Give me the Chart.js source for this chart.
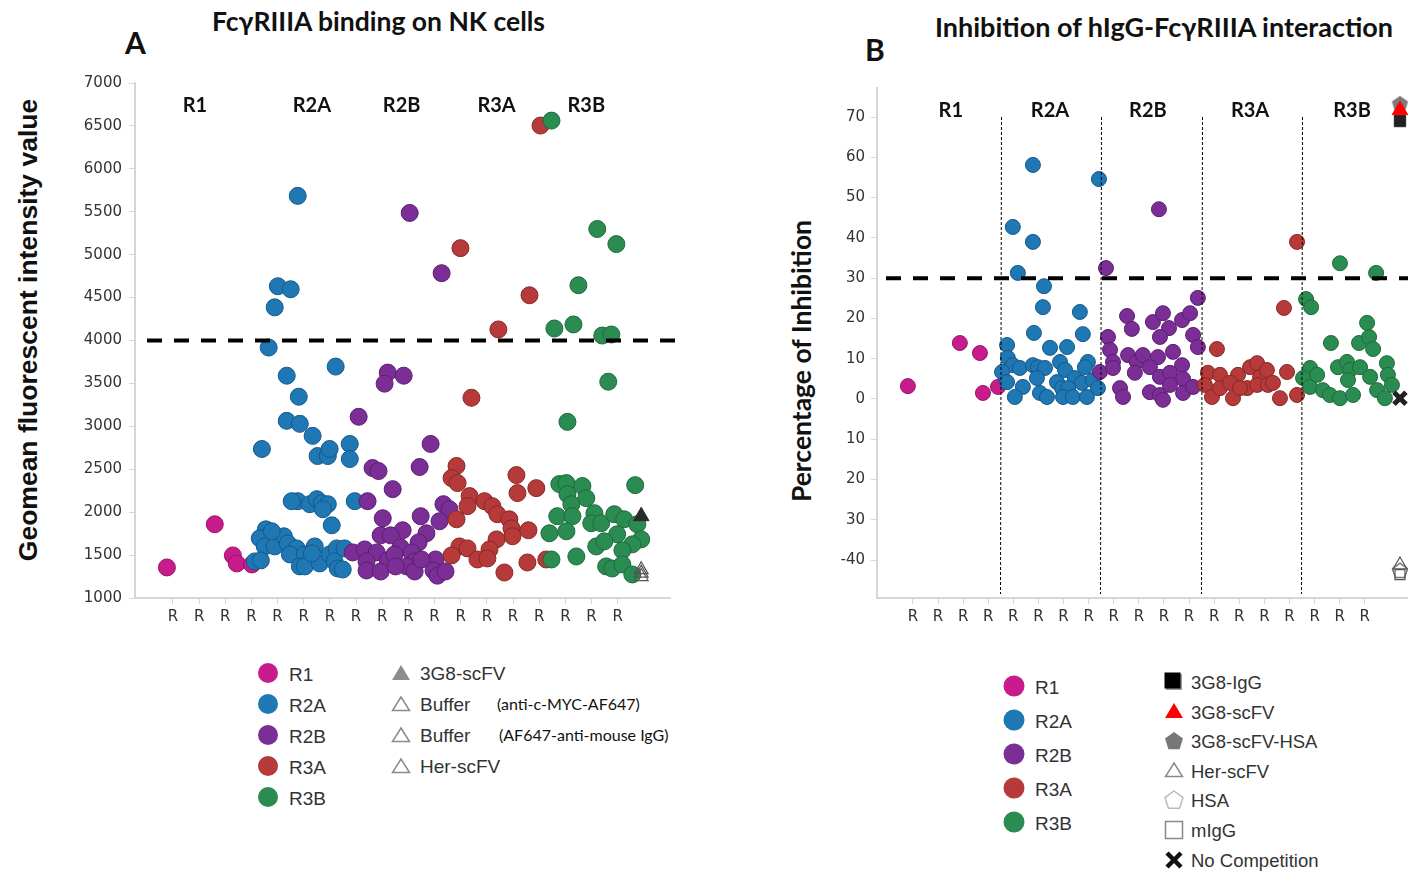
<!DOCTYPE html>
<html lang="en">
<head>
<meta charset="UTF-8">
<title>FcγRIIIA binding</title>
<script src="https://cdn.jsdelivr.net/npm/chart.js@4"></script>
<style>
  body{margin:0;background:#fff;width:1408px;height:871px;overflow:hidden;position:relative;font-family:"Liberation Sans",Arial,sans-serif}
  .abs{position:absolute;white-space:nowrap}
  .ttl{font-family:Lato,sans-serif;font-weight:700;color:#111;line-height:1}
  .ytl{font-weight:700;color:#111;line-height:1;transform:translate(-50%,-50%) rotate(-90deg)}
  .lg{color:#333;line-height:1;transform:translateY(-50%)}
  .par{font-family:Lato,sans-serif;color:#111;font-size:16px;line-height:1;transform:translateY(-50%)}
  canvas{position:absolute}
</style>
</head>
<body>

<div class="abs ttl" style="left:212px;top:8px;font-size:26.5px">FcγRIIIA binding on NK cells</div>
<div class="abs ttl" style="left:125px;top:27px;font-size:30px">A</div>
<div class="abs ttl" style="left:935px;top:13px;font-size:27px">Inhibition of hIgG-FcγRIIIA interaction</div>
<div class="abs ttl" style="left:865px;top:34px;font-size:30px">B</div>
<div class="abs ytl" style="left:28px;top:330px;font-family:'Liberation Sans',Arial,sans-serif;font-size:26.5px">Geomean fluorescent intensity value</div>
<div class="abs ytl" style="left:801px;top:361px;font-family:Lato,sans-serif;font-size:26.5px">Percentage of Inhibition</div>

<canvas id="chartA" width="690" height="640" style="left:0;top:0;width:690px;height:640px"></canvas>
<canvas id="chartB" width="628" height="640" style="left:780px;top:0;width:628px;height:640px"></canvas>

<script>
// groups and colours
const regionNames = ['R1', 'R2A', 'R2B', 'R3A', 'R3B'];
const regionColors = ['#c81b8c', '#1f77b4', '#7b2e96', '#b73a3a', '#2b8c52'];
const regionBorders = ['#9a1468', '#15598a', '#5a1f70', '#872828', '#1e6a3c'];

// tick positions
const xTicksA = [1,2,3,4,5,6,7,8,9,10,11,12,13,14,15,16,17,18];
const xTicksB = [1,2,3,4,5,6,7,8,9,10,11,12,13,14,15,16,17,18,19];
const yTicksA = [1000,1500,2000,2500,3000,3500,4000,4500,5000,5500,6000,6500,7000];
const yTicksB = [-40,-30,-20,-10,0,10,20,30,40,50,60,70];
const yLabelsB = ['-40','30','20','10','0','10','20','30','40','50','60','70'];

// group label positions (x in tick units, y in data units)
const regionLabelXA = [1.84, 6.31, 9.74, 13.37, 16.8];
const regionLabelYA = 6740;
const regionLabelXB = [2.51, 6.46, 10.36, 14.43, 18.49];
const regionLabelYB = 71.5;
const separatorsB = [4.5, 8.5, 12.5, 16.5];
const thresholdA = 4000;
const thresholdB = 30;

// panel A: geomean fluorescence
const aR1 = [[0.77,1356],[2.60,1859],[3.29,1496],[3.44,1403],[4.02,1391]];
const aR2A = [[5.77,5685],[5.01,4632],[5.50,4597],[4.89,4386],[4.66,3918],[7.22,3696],[5.35,3590],[5.81,3345],
  [5.35,3064],[5.85,3029],[4.40,2736],[6.34,2889],[7.76,2795],[6.53,2654],[6.92,2654],[6.99,2736],[7.76,2619],
  [5.77,2128],[7.95,2128],[6.23,2093],[6.50,2151],[6.69,2105],[6.92,2093],[6.73,2034],[5.54,2128],[7.07,1847],
  [4.55,1800],[4.32,1695],[4.51,1601],[4.89,1601],[5.24,1719],[5.39,1637],[5.73,1578],[5.47,1508],[6.04,1508],
  [6.42,1601],[5.85,1368],[6.04,1368],[4.13,1426],[4.36,1438],[6.61,1403],[6.99,1508],[7.26,1578],[7.18,1426],
  [7.30,1344],[7.56,1578],[7.49,1332],[6.31,1520],[4.78,1777]];
const aR2B = [[10.05,5486],[11.27,4784],[9.21,3626],[9.09,3497],[9.82,3590],[8.10,3111],[8.63,2514],[8.86,2479],
  [9.40,2268],[10.85,2795],[10.43,2526],[8.44,2128],[9.02,1929],[10.47,1953],[11.34,2093],[11.57,2034],[11.19,1894],
  [8.94,1730],[9.78,1789],[9.32,1730],[10.69,1754],[10.39,1648],[7.87,1531],[8.33,1566],[8.79,1531],[9.21,1438],
  [8.40,1426],[8.40,1321],[8.94,1309],[9.70,1590],[10.12,1531],[10.24,1426],[9.93,1368],[10.24,1309],[11.04,1449],
  [10.96,1321],[11.11,1260],[11.42,1309],[9.47,1508],[9.51,1368],[10.50,1449]];
const aR3A = [[15.05,6504],[11.99,5076],[14.63,4527],[13.44,4129],[12.41,3333],[11.84,2538],[11.65,2397],[11.88,2339],
  [14.13,2432],[14.17,2222],[14.89,2280],[12.34,2187],[12.26,2070],[12.91,2128],[13.21,2070],[13.40,1976],[11.84,1917],
  [13.86,1917],[13.94,1812],[13.98,1719],[14.59,1789],[13.37,1683],[13.10,1566],[11.95,1601],[12.26,1578],[11.65,1496],
  [12.64,1449],[13.02,1461],[13.67,1297],[14.55,1414],[15.27,1449]];
const aR3B = [[15.47,6562],[17.22,5299],[17.95,5123],[16.50,4644],[15.58,4140],[16.31,4187],[17.41,4058],[17.76,4070],
  [17.64,3520],[16.08,3052],[18.67,2315],[15.77,2327],[16.04,2339],[16.65,2304],[16.08,2210],[16.80,2163],[16.23,2093],
  [17.11,1988],[15.69,1953],[16.27,1953],[16.99,1871],[17.37,1871],[17.87,1976],[18.25,1917],[18.75,1859],[15.39,1754],
  [16.04,1777],[17.98,1742],[18.90,1683],[18.56,1625],[17.18,1601],[17.49,1660],[18.18,1555],[15.47,1449],[16.42,1484],
  [17.56,1368],[17.79,1344],[18.18,1391],[18.56,1274]];
const a3G8scFV = [[18.9,1953]];
const aBufferMyc = [[18.9,1330]];
const aBufferIgG = [[18.9,1290]];
const aHerScFV = [[18.9,1250]];

// panel B: percentage of inhibition
const bR1 = [[0.80,3.2],[2.87,13.9],[3.67,11.4],[3.79,1.5],[4.39,3.0]];
const bR2A = [[5.78,58.1],[8.41,54.6],[4.98,42.7],[5.78,39.0],[5.18,31.3],[6.22,28.0],[6.18,22.8],[7.65,21.6],
  [5.82,16.4],[7.77,16.1],[4.75,13.4],[6.46,12.7],[7.14,12.9],[4.78,10.2],[4.98,8.4],[5.26,7.7],[5.78,8.4],[5.98,7.9],
  [6.26,7.7],[4.55,6.7],[6.86,9.2],[7.06,7.2],[7.97,9.2],[7.85,7.9],[5.94,5.2],[4.75,4.2],[5.38,3.0],[6.74,4.2],
  [7.45,5.2],[7.73,4.0],[8.17,4.7],[8.37,2.7],[6.94,2.7],[7.18,2.7],[5.06,0.5],[6.06,1.5],[6.34,0.5],[6.98,0.5],
  [7.37,0.5],[7.93,0.5]];
const bR2B = [[10.80,47.1],[8.69,32.5],[12.35,25.1],[9.53,20.6],[9.72,17.4],[10.56,19.1],[10.96,21.3],[11.20,17.6],
  [11.72,19.6],[12.04,21.3],[10.84,15.4],[12.16,15.9],[12.35,12.9],[8.77,15.4],[8.85,12.2],[8.97,9.2],[9.57,10.9],
  [9.92,9.2],[10.16,10.9],[10.76,10.4],[11.36,11.7],[11.72,8.4],[10.44,7.9],[9.84,6.5],[10.84,5.5],[11.24,6.5],
  [11.76,5.0],[8.45,6.7],[8.97,7.7],[9.25,2.7],[9.37,0.5],[10.44,1.7],[10.84,1.0],[10.96,-0.2],[11.24,3.5],
  [11.76,1.5],[12.16,3.0]];
const bR3A = [[16.30,39.0],[15.78,22.6],[13.11,12.4],[12.75,6.5],[13.23,6.0],[12.63,3.5],[12.91,0.5],[13.23,2.7],
  [13.75,0.2],[13.95,6.0],[14.43,7.9],[14.71,8.9],[14.83,5.5],[15.10,7.2],[14.31,2.7],[14.71,3.5],[15.14,3.5],
  [15.62,0.2],[15.90,6.7],[16.30,1.0],[13.63,4.0],[15.34,4.0],[14.03,2.7]];
const bR3B = [[18.01,33.7],[19.45,31.3],[16.66,24.8],[16.86,22.8],[19.09,18.9],[17.65,13.9],[18.77,13.9],[19.17,15.4],
  [19.33,12.4],[16.82,7.7],[16.54,5.2],[16.82,3.0],[17.10,6.0],[17.33,2.2],[17.61,1.0],[17.93,7.9],[18.29,9.2],
  [18.41,7.2],[18.33,4.7],[18.81,7.9],[19.21,5.5],[18.01,0.2],[18.53,1.0],[19.49,2.2],[19.88,8.9],[19.92,6.0],
  [20.08,3.5],[19.80,0.2]];
const b3G8HSA = [[20.4,73.4]];
const b3G8IgG = [[20.4,69.0]];
const b3G8scFV = [[20.4,71.7]];
const bNoComp = [[20.4,0.2]];
const bHerScFV = [[20.4,-41.2]];
const bHSA = [[20.4,-42.5]];
const bMIgG = [[20.4,-43.6]];

const toPts = a => a.map(p => ({x: p[0], y: p[1]}));

function pentagon(size, fill, stroke) {
  const c = document.createElement('canvas');
  c.width = size; c.height = size;
  const g = c.getContext('2d');
  const r = size / 2 - 1;
  g.beginPath();
  for (let i = 0; i < 5; i++) {
    const a = -Math.PI / 2 + i * 2 * Math.PI / 5;
    const px = size / 2 + r * Math.cos(a), py = size / 2 + 1 + r * Math.sin(a);
    i ? g.lineTo(px, py) : g.moveTo(px, py);
  }
  g.closePath();
  g.fillStyle = fill; g.fill();
  if (stroke) { g.lineWidth = 1.2; g.strokeStyle = stroke; g.stroke(); }
  return c;
}

function circles(sets, r) {
  return sets.map((s, i) => ({
    label: regionNames[i], data: toPts(s), pointStyle: 'circle', pointRadius: r,
    backgroundColor: regionColors[i], borderColor: regionBorders[i], borderWidth: 1
  }));
}

function marker(label, pts, style, r, bg, border, bw) {
  return {label, data: toPts(pts), pointStyle: style, pointRadius: r,
    backgroundColor: bg, borderColor: border, borderWidth: bw};
}

// later datasets are drawn on top
const stackOrder = sets => sets.map((d, i) => Object.assign(d, {order: -i}));

const guides = {
  id: 'guides',
  afterDatasetsDraw(chart, args, o) {
    const {ctx, chartArea: ca, scales: {x, y}} = chart;
    ctx.save();
    if (o.separators) {
      ctx.strokeStyle = '#000'; ctx.lineWidth = 1; ctx.setLineDash([3, 2]);
      o.separators.forEach(v => {
        const px = Math.round(x.getPixelForValue(v)) + 0.5;
        ctx.beginPath(); ctx.moveTo(px, y.getPixelForValue(70)); ctx.lineTo(px - 1, ca.bottom - 4); ctx.stroke();
      });
    }
    ctx.strokeStyle = '#000'; ctx.lineWidth = 4; ctx.setLineDash([15, 12]);
    const ty = y.getPixelForValue(o.threshold);
    ctx.beginPath(); ctx.moveTo(ca.left + o.from, ty); ctx.lineTo(ca.right + o.to, ty); ctx.stroke();
    ctx.setLineDash([]);
    ctx.fillStyle = '#111'; ctx.font = 'bold 20px Lato'; ctx.textAlign = 'center'; ctx.textBaseline = 'middle';
    regionNames.forEach((n, i) => ctx.fillText(n, x.getPixelForValue(o.labelX[i]), y.getPixelForValue(o.labelY)));
    ctx.restore();
  }
};

function axes(xmin, xmax, xt, ymin, ymax, yt, ylabels, ywidth, ypad) {
  return {
    x: {type: 'linear', min: xmin, max: xmax,
      afterBuildTicks: s => { s.ticks = xt.map(v => ({value: v})); },
      afterFit: s => { s.height = 42; },
      border: {color: '#d6d6d6', width: 2},
      grid: {drawOnChartArea: false, color: '#d6d6d6', tickLength: 6},
      ticks: {autoSkip: false, maxRotation: 0, padding: 4, color: '#333',
        font: {family: 'DejaVu Sans', size: 15}, callback: () => 'R'}},
    y: {type: 'linear', min: ymin, max: ymax,
      afterBuildTicks: s => { s.ticks = yt.map(v => ({value: v})); },
      afterFit: s => { s.width = ywidth; },
      border: {color: '#d6d6d6', width: 2},
      grid: {drawOnChartArea: false, color: '#d6d6d6', tickLength: 6},
      ticks: {padding: ypad, color: '#333', font: {family: 'DejaVu Sans', size: 15},
        callback: v => ylabels ? ylabels[yt.indexOf(v)] : String(v)}}
  };
}

const common = {
  responsive: false, animation: false, devicePixelRatio: 1,
  plugins: {legend: {display: false}, tooltip: {enabled: false}}
};

new Chart(document.getElementById('chartA'), {
  type: 'scatter',
  data: {datasets: stackOrder(circles([aR1, aR2A, aR2B, aR3A, aR3B], 8.5).concat([
    marker('3G8-scFV', a3G8scFV, 'triangle', 9, '#2a2a2a', '#2a2a2a', 1),
    marker('Buffer (anti-c-MYC-AF647)', aBufferMyc, 'triangle', 8, 'rgba(255,255,255,0)', '#555', 1.2),
    marker('Buffer (AF647-anti-mouse IgG)', aBufferIgG, 'triangle', 8, 'rgba(255,255,255,0)', '#555', 1.2),
    marker('Her-scFV', aHerScFV, 'triangle', 8, 'rgba(255,255,255,0)', '#555', 1.2)
  ]))},
  options: Object.assign({}, common, {
    layout: {autoPadding: false, padding: {top: 83, right: 20, left: 0, bottom: 0}},
    scales: axes(-0.45, 20, xTicksA, 1000, 7000, yTicksA, null, 135, 7),
    plugins: Object.assign({}, common.plugins, {
      guides: {threshold: thresholdA, from: 12, to: 8, labelX: regionLabelXA, labelY: regionLabelYA}
    })
  }),
  plugins: [guides]
});

new Chart(document.getElementById('chartB'), {
  type: 'scatter',
  data: {datasets: stackOrder(circles([bR1, bR2A, bR2B, bR3A, bR3B], 7.5).concat([
    marker('3G8-scFV-HSA', b3G8HSA, pentagon(19, '#7a7a7a', null), 9, '#7a7a7a', '#7a7a7a', 0),
    marker('3G8-IgG', b3G8IgG, 'rect', 8, '#222', '#222', 1),
    marker('3G8-scFV', b3G8scFV, 'triangle', 9, '#ff0000', '#ff0000', 1),
    marker('No Competition', bNoComp, 'crossRot', 8.5, '#222', '#222', 5),
    marker('Her-scFV', bHerScFV, 'triangle', 8, 'rgba(255,255,255,0)', '#555', 1.2),
    marker('HSA', bHSA, pentagon(18, 'rgba(255,255,255,0)', '#555'), 9, '#fff', '#555', 0),
    marker('mIgG', bMIgG, 'rect', 7, 'rgba(255,255,255,0)', '#555', 1.2)
  ]))},
  options: Object.assign({}, common, {
    layout: {autoPadding: false, padding: {top: 88, right: 0, left: 0, bottom: 0}},
    scales: axes(-0.43, 20.72, xTicksB, -49.4, 77.2, yTicksB, yLabelsB, 97, 6),
    plugins: Object.assign({}, common.plugins, {
      guides: {threshold: thresholdB, from: 9, to: 0, labelX: regionLabelXB, labelY: regionLabelYB, separators: separatorsB}
    })
  }),
  plugins: [guides]
});

// legends
const svgNS = 'http://www.w3.org/2000/svg';
function icon(inner, cx, cy, w, h) {
  const s = document.createElementNS(svgNS, 'svg');
  s.setAttribute('width', w); s.setAttribute('height', h);
  s.style.position = 'absolute'; s.style.left = (cx - w / 2) + 'px'; s.style.top = (cy - h / 2) + 'px';
  s.innerHTML = inner;
  document.body.appendChild(s);
}
function text(t, x, cy, cls, size) {
  const d = document.createElement('div');
  d.className = 'abs ' + cls; d.textContent = t;
  d.style.left = x + 'px'; d.style.top = cy + 'px';
  if (size) d.style.fontSize = size + 'px';
  document.body.appendChild(d);
}
const pent = '10,1 19,7.6 15.6,18.2 4.4,18.2 1,7.6';
const triFill = c => `<polygon points="10,1 19,16 1,16" fill="${c}"/>`;
const triLine = '<polygon points="10,2 18.5,15.5 1.5,15.5" fill="none" stroke="#8a8a8a" stroke-width="1.5"/>';

regionNames.forEach((n, i) => {
  icon(`<circle cx="11" cy="11" r="10" fill="${regionColors[i]}"/>`, 268, 673 + 31 * i, 22, 22);
  text(n, 289, 674 + 31 * i, 'lg', 19);
  icon(`<circle cx="11" cy="11" r="10.5" fill="${regionColors[i]}"/>`, 1014, 686 + 34 * i, 22, 22);
  text(n, 1035, 687 + 34 * i, 'lg', 19);
});

const legendA2 = ['3G8-scFV', 'Buffer', 'Buffer', 'Her-scFV'];
legendA2.forEach((n, i) => {
  icon(i === 0 ? triFill('#8c8c8c') : triLine, 401, 672 + 31 * i, 20, 17);
  text(n, 420, 673 + 31 * i, 'lg', 19);
});
text('(anti-c-MYC-AF647)', 497, 704, 'par');
text('(AF647-anti-mouse IgG)', 499, 735, 'par');

const legendB2 = ['3G8-IgG', '3G8-scFV', '3G8-scFV-HSA', 'Her-scFV', 'HSA', 'mIgG', 'No Competition'];
const iconsB2 = [
  '<rect x="2" y="2" width="16" height="16" fill="#999"/><rect x="0.5" y="0.5" width="16" height="16" fill="#000"/>',
  triFill('#ff0000'),
  `<polygon points="${pent}" fill="#777"/>`,
  triLine,
  `<polygon points="${pent}" fill="#fff" stroke="#bbb" stroke-width="1.5"/>`,
  '<rect x="1.5" y="1.5" width="17" height="17" fill="#fff" stroke="#888" stroke-width="1.5"/>',
  '<path d="M3,3 L17,17 M17,3 L3,17" stroke="#111" stroke-width="4.5"/>'
];
legendB2.forEach((n, i) => {
  icon(iconsB2[i], 1174, 682 + 29.6 * i, 20, 20);
  text(n, 1191, 683 + 29.6 * i, 'lg', 18.5);
});
</script>
</body>
</html>
